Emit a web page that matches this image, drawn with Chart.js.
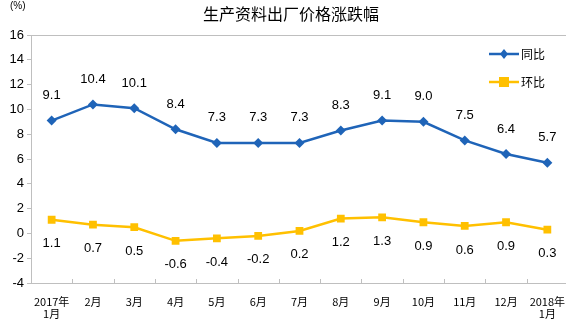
<!DOCTYPE html>
<html>
<head>
<meta charset="utf-8">
<script src="https://cdn.jsdelivr.net/npm/chart.js@4/dist/chart.umd.min.js"></script>
<style>
  html, body { margin: 0; padding: 0; background: #fff; }
  #wrap { width: 566px; height: 323px; position: relative; }
</style>
</head>
<body>
<div id="wrap"><canvas id="c" width="566" height="323"></canvas></div>
<script>
const months = [['2017年', '1月'], '2月', '3月', '4月', '5月', '6月', '7月', '8月', '9月', '10月', '11月', '12月', ['2018年', '1月']];
const yoy = [9.1, 10.4, 10.1, 8.4, 7.3, 7.3, 7.3, 8.3, 9.1, 9.0, 7.5, 6.4, 5.7];
const mom = [1.1, 0.7, 0.5, -0.6, -0.4, -0.2, 0.2, 1.2, 1.3, 0.9, 0.6, 0.9, 0.3];
const yTicks = [-4, -2, 0, 2, 4, 6, 8, 10, 12, 14, 16];

const BLUE = '#1F64B8';
const GOLD = '#FFC000';
const AXIS = '#BFBFBF';
const FONT = 'Arial, "Liberation Sans", "Noto Sans CJK SC", sans-serif';
const CJK = '"Noto Sans CJK SC", "Liberation Sans", sans-serif';
const PLOT_RIGHT = 568; // plot frame runs just past the canvas edge

// stretch the plot area to the right edge, like the original
const stretch = {
    id: 'stretch',
    afterLayout(chart) {
        const xs = chart.scales.x;
        xs.right = PLOT_RIGHT;
        xs.width = xs.right - xs.left;
        xs.configure();
        chart.chartArea.right = PLOT_RIGHT;
        chart.chartArea.width = PLOT_RIGHT - chart.chartArea.left;
    }
};

// labels, title, legend, frame
const decor = {
    id: 'decor',
    afterDatasetsDraw(chart) {
        const ctx = chart.ctx;
        const area = chart.chartArea;
        const xs = chart.scales.x;

        ctx.save();
        // top frame line
        ctx.strokeStyle = AXIS;
        ctx.lineWidth = 1;
        ctx.beginPath();
        ctx.moveTo(area.left, area.top + 0.5);
        ctx.lineTo(area.right, area.top + 0.5);
        ctx.stroke();

        // category ticks pointing up from the x axis
        const step = xs.getPixelForValue(1) - xs.getPixelForValue(0);
        for (let i = 1; i < months.length; i++) {
            const x = Math.round(xs.getPixelForValue(i) - step / 2) + 0.5;
            ctx.beginPath();
            ctx.moveTo(x, area.bottom);
            ctx.lineTo(x, area.bottom - 4);
            ctx.stroke();
        }

        // value labels
        ctx.fillStyle = '#000';
        ctx.font = '13px ' + FONT;
        ctx.textAlign = 'center';
        ctx.textBaseline = 'middle';
        chart.getDatasetMeta(0).data.forEach((pt, i) => {
            ctx.fillText(yoy[i].toFixed(1), pt.x, pt.y - 25);
        });
        chart.getDatasetMeta(1).data.forEach((pt, i) => {
            ctx.fillText(mom[i].toFixed(1), pt.x, pt.y + 24);
        });

        // title and unit
        ctx.font = '16px ' + CJK;
        ctx.fillText('生产资料出厂价格涨跌幅', 291, 14);
        ctx.font = '10px ' + FONT;
        ctx.textAlign = 'left';
        ctx.fillText('(%)', 10, 6);

        // legend
        const items = [[chart.data.datasets[0], 54], [chart.data.datasets[1], 82]];
        items.forEach(([ds, y]) => {
            ctx.strokeStyle = ds.borderColor;
            ctx.lineWidth = 2.5;
            ctx.beginPath();
            ctx.moveTo(489, y);
            ctx.lineTo(519, y);
            ctx.stroke();
            ctx.fillStyle = ds.borderColor;
            ctx.beginPath();
            if (ds.pointStyle === 'rectRot') {
                ctx.moveTo(504, y - 5); ctx.lineTo(508, y); ctx.lineTo(504, y + 5); ctx.lineTo(500, y);
            } else {
                ctx.rect(499, y - 5, 10, 10);
            }
            ctx.fill();
            ctx.fillStyle = '#000';
            ctx.font = '12px ' + CJK;
            ctx.fillText(ds.label, 521, y);
        });
        ctx.restore();
    }
};

new Chart(document.getElementById('c'), {
    type: 'line',
    data: {
        labels: months,
        datasets: [
            {
                label: '同比',
                data: yoy,
                borderColor: BLUE,
                backgroundColor: BLUE,
                borderWidth: 2.5,
                pointStyle: 'rectRot',
                pointRadius: 5,
                pointBorderWidth: 0,
                tension: 0
            },
            {
                label: '环比',
                data: mom,
                borderColor: GOLD,
                backgroundColor: GOLD,
                borderWidth: 2.5,
                pointStyle: 'rect',
                pointRadius: 5.5,
                pointBorderWidth: 0,
                tension: 0
            }
        ]
    },
    options: {
        responsive: false,
        animation: false,
        devicePixelRatio: 1,
        layout: { padding: { top: 35, right: 0, bottom: 0, left: 0 } },
        plugins: {
            legend: { display: false },
            title: { display: false },
            tooltip: { enabled: false }
        },
        scales: {
            x: {
                offset: true,
                grid: { display: false },
                border: { display: true, color: AXIS, width: 1 },
                ticks: {
                    color: '#000',
                    font: { family: CJK, size: 11, lineHeight: 1.15 },
                    padding: 4,
                    maxRotation: 0,
                    autoSkip: false
                },
                afterFit(scale) {
                    scale.height = 40;
                    scale.paddingLeft = 0;
                    scale.paddingRight = 0;
                }
            },
            y: {
                min: -4,
                max: 16,
                afterBuildTicks(scale) {
                    scale.ticks = yTicks.map(v => ({ value: v }));
                },
                grid: { drawOnChartArea: false, tickLength: 4, color: AXIS },
                border: { display: true, color: AXIS, width: 1 },
                ticks: {
                    color: '#000',
                    font: { family: FONT, size: 13 },
                    padding: 3
                },
                afterFit(scale) {
                    scale.width = 31;
                    scale.paddingTop = 0;
                    scale.paddingBottom = 0;
                }
            }
        }
    },
    plugins: [stretch, decor]
});
</script>
</body>
</html>
